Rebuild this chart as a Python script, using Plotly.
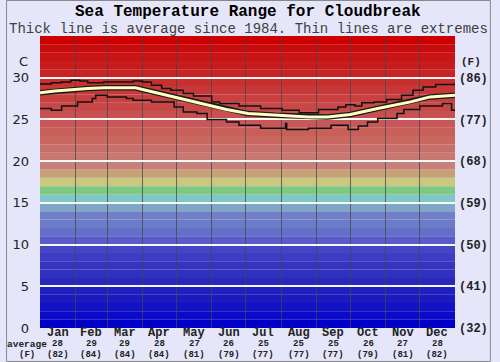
import plotly.graph_objects as go

# ---------------- data ----------------
month_names = ["Jan", "Feb", "Mar", "Apr", "May", "Jun", "Jul", "Aug", "Sep", "Oct", "Nov", "Dec"]
month_bounds = [0, 31, 59, 90, 120, 151, 181, 212, 243, 273, 304, 334, 365]
month_avg_c = ["28", "29", "29", "28", "27", "26", "25", "25", "25", "26", "27", "28"]
month_avg_f = ["(82)", "(84)", "(84)", "(84)", "(81)", "(79)", "(77)", "(77)", "(77)", "(79)", "(81)", "(82)"]

c_ticks = [0, 5, 10, 15, 20, 25, 30]
f_ticks = ["(32)", "(41)", "(50)", "(59)", "(68)", "(77)", "(86)"]

avg_days = [0, 13, 42, 56, 70, 84, 93, 118, 147, 164, 183, 207, 236, 253, 273, 297, 326, 343, 365]
avg_temp = [28.2, 28.4, 28.7, 28.8, 28.8, 28.8, 28.5, 27.7, 26.7, 26.2, 25.7, 25.5, 25.3, 25.3, 25.6, 26.3, 27.1, 27.7, 27.9]

max_days = [0, 10, 19, 27, 35, 42, 56, 82, 90, 98, 107, 115, 126, 135, 151, 158, 175, 194, 213,
            228, 245, 262, 269, 277, 283, 294, 305, 318, 328, 337, 348, 365]
max_temp = [29.25, 29.4, 29.5, 29.7, 29.6, 29.4, 29.5, 29.6, 29.5, 29.1, 28.7, 28.5, 28.1, 27.8, 27.1, 26.9, 26.6, 26.3, 26.1,
            25.8, 26.2, 26.5, 26.75, 26.6, 27.0, 27.1, 27.4, 27.9, 28.5, 28.9, 29.2, 29.3]

min_days = [0, 10, 19, 33, 46, 49, 59, 76, 82, 98, 118, 126, 138, 147, 164, 175, 194, 216, 217,
            236, 256, 271, 280, 288, 297, 314, 320, 334, 354, 362, 365]
min_temp = [26.3, 26.1, 26.6, 27.1, 27.5, 27.9, 27.7, 27.5, 27.3, 27.1, 26.5, 25.9, 25.7, 25.0, 24.7, 24.3, 23.95, 24.5, 23.8,
            23.95, 24.3, 23.8, 24.2, 24.7, 25.1, 25.7, 26.2, 26.6, 26.9, 26.1, 26.1]

band_colors = [
    "#0000c8", "#0a0ac8", "#1212c4", "#1a1ac0", "#2020c0", "#2828bc", "#3030c0", "#3434c0", "#3c3cc4", "#4646c4",
    "#5a5ac8", "#6470c8", "#6c7cc8", "#7080c8", "#80a6c8", "#80c8c8", "#80c880", "#c8c880", "#c8a078", "#c88078",
    "#c87870", "#c87068", "#c86860", "#c86058", "#c85858", "#c85050", "#c84848", "#c84040", "#c83838", "#c83030",
    "#c82424", "#c81c1c", "#c81414", "#c80c0c", "#cc0000",
]

# ---------------- layout geometry ----------------
W, H = 500, 362
L, R, T, B = 35, 37, 36, 34
PW, PH = W - L - R, H - T - B


def px(xp):
    return (xp - L) / PW


def py(yp):
    return (H - B - yp) / PH


MONO = "Liberation Mono"
BG = "#e6e6fa"

fig = go.Figure()

fig.add_trace(go.Scatter(x=max_days, y=max_temp, mode="lines", line=dict(color="#111111", width=1.5, shape="hv"),
                         hoverinfo="skip", showlegend=False))
fig.add_trace(go.Scatter(x=min_days, y=min_temp, mode="lines", line=dict(color="#111111", width=1.5, shape="hv"),
                         hoverinfo="skip", showlegend=False))
fig.add_trace(go.Scatter(x=avg_days, y=avg_temp, mode="lines", line=dict(color="#1a1a1a", width=5.5),
                         hoverinfo="skip", showlegend=False))
fig.add_trace(go.Scatter(x=avg_days, y=avg_temp, mode="lines", line=dict(color="#ffffc4", width=3),
                         hoverinfo="skip", showlegend=False))
# invisible trace on right axis so it renders
fig.add_trace(go.Scatter(x=[0], y=[0], yaxis="y2", mode="markers", marker=dict(opacity=0),
                         hoverinfo="skip", showlegend=False))

shapes = []
for i, col in enumerate(band_colors):
    shapes.append(dict(type="rect", xref="x", yref="y", x0=0, x1=365, y0=i, y1=i + 1,
                       fillcolor=col, line=dict(width=0), layer="below"))
# outer border
shapes.append(dict(type="rect", xref="paper", yref="paper", x0=px(0.5), x1=px(W - 0.5), y0=py(H - 0.5), y1=py(0.5),
                   line=dict(color="#888888", width=1), fillcolor="rgba(0,0,0,0)", layer="above"))

ROW1, ROW2, ROW3 = 332.5, 344.2, 354.6

annotations = [
    dict(text="<b>Sea Temperature Range for Cloudbreak</b>", x=0.5, y=py(12), xref="paper", yref="paper",
         showarrow=False, font=dict(family=MONO, size=16, color="#000000"), xanchor="center", yanchor="middle"),
    dict(text="Thick line is average since 1984. Thin lines are extremes", x=px(250), y=py(29), xref="paper",
         yref="paper", showarrow=False, font=dict(family=MONO, size=14, color="#404040"),
         xanchor="center", yanchor="middle"),
    dict(text="C", x=px(18), y=py(61), xref="paper", yref="paper", showarrow=False,
         font=dict(family="DejaVu Sans", size=13, color="#222222"), xanchor="center", yanchor="middle"),
    dict(text="<b>(F)</b>", x=px(480), y=py(62), xref="paper", yref="paper", showarrow=False,
         font=dict(family=MONO, size=11, color="#222222"), xanchor="center", yanchor="middle"),
    dict(text="<b>average</b>", x=px(22), y=py(ROW2), xref="paper", yref="paper", showarrow=False,
         font=dict(family=MONO, size=9.5, color="#222222"), xanchor="center", yanchor="middle", borderpad=0),
    dict(text="<b>(F)</b>", x=px(22), y=py(ROW3), xref="paper", yref="paper", showarrow=False,
         font=dict(family=MONO, size=9, color="#222222"), xanchor="center", yanchor="middle", borderpad=0),
]
for i, name in enumerate(month_names):
    mid = (month_bounds[i] + month_bounds[i + 1]) / 2
    annotations.append(dict(text=f"<b>{name}</b>", x=mid, y=py(ROW1), xref="x", yref="paper", showarrow=False,
                            font=dict(family=MONO, size=12, color="#222222"), xanchor="center", yanchor="middle",
                            borderpad=0))
    annotations.append(dict(text=f"<b>{month_avg_c[i]}</b>", x=mid, y=py(ROW2), xref="x", yref="paper",
                            showarrow=False, font=dict(family=MONO, size=9, color="#222222"),
                            xanchor="center", yanchor="middle", borderpad=0))
    annotations.append(dict(text=f"<b>{month_avg_f[i]}</b>", x=mid, y=py(ROW3), xref="x", yref="paper",
                            showarrow=False, font=dict(family=MONO, size=9, color="#222222"),
                            xanchor="center", yanchor="middle", borderpad=0))

fig.update_layout(
    width=W, height=H,
    margin=dict(l=L, r=R, t=T, b=B, pad=0),
    paper_bgcolor=BG, plot_bgcolor=BG,
    showlegend=False,
    shapes=shapes,
    annotations=annotations,
    xaxis=dict(range=[0, 365], tickmode="array", tickvals=month_bounds[1:-1], showticklabels=False,
               showgrid=True, gridcolor="rgba(70,70,70,0.75)", gridwidth=1.3, zeroline=False, ticks="",
               showline=False, fixedrange=True),
    yaxis=dict(range=[0, 35], tickmode="array", tickvals=c_ticks, ticktext=[str(v) for v in c_ticks],
               showgrid=True, gridcolor="rgba(255,255,255,0.95)", gridwidth=2, zeroline=False, ticks="",
               ticklabelstandoff=10, tickfont=dict(family="DejaVu Sans", size=13, color="#222222"),
               showline=False, fixedrange=True),
    yaxis2=dict(range=[0, 35], overlaying="y", side="right", tickmode="array", tickvals=c_ticks, ticktext=f_ticks,
                showgrid=False, zeroline=False, ticks="", ticklabelstandoff=3,
                tickfont=dict(family=MONO, size=12, color="#222222", weight="bold"), showline=False,
                fixedrange=True),
)

fig.write_html("out.html", config={"displayModeBar": False},
               post_script="document.body.style.margin='0';document.body.style.padding='0';"
                           "document.body.style.overflow='hidden';")
